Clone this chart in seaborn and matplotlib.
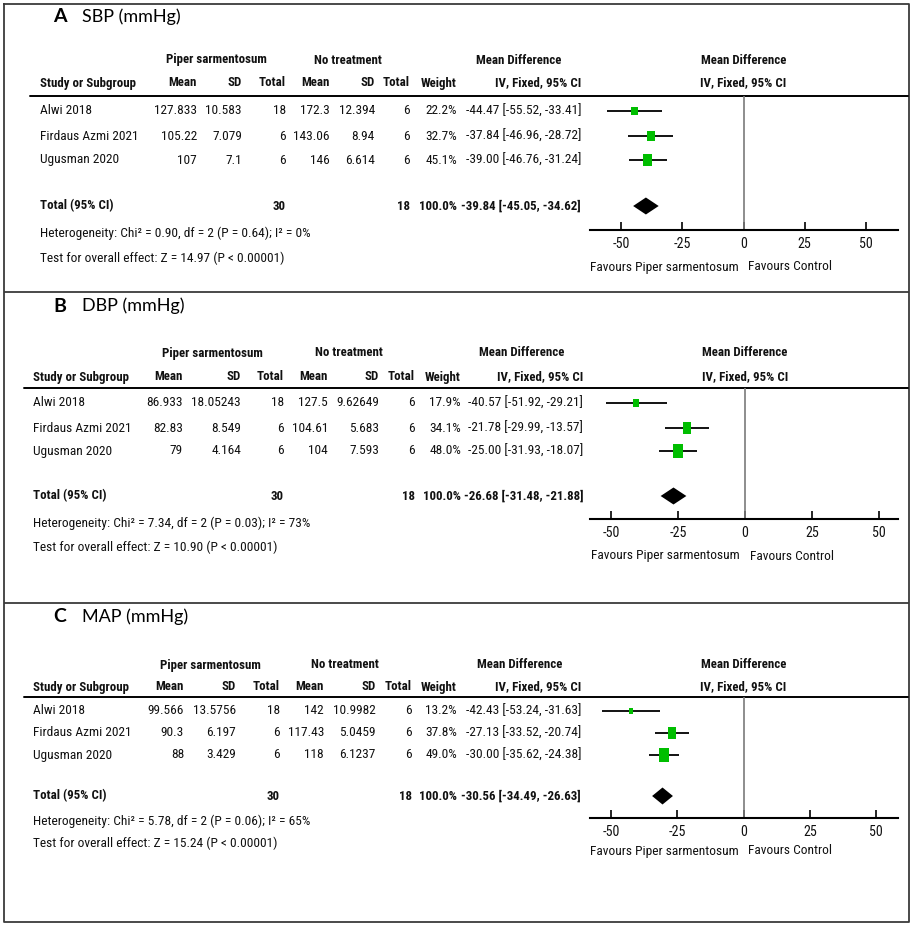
import matplotlib
matplotlib.use('Agg')
import matplotlib.pyplot as plt
from matplotlib import font_manager
import seaborn as sns
import pandas as pd

# study names and group sizes (same in all three outcomes)
studies = ['Alwi 2018', 'Firdaus Azmi 2021', 'Ugusman 2020']
ps_n = [18, 6, 6]
nt_n = [6, 6, 6]

# A - SBP
sbp_ps_mean = ['127.833', '105.22', '107']
sbp_ps_sd = ['10.583', '7.079', '7.1']
sbp_nt_mean = ['172.3', '143.06', '146']
sbp_nt_sd = ['12.394', '8.94', '6.614']
sbp_weight = [22.2, 32.7, 45.1]
sbp_md = [-44.47, -37.84, -39.00]
sbp_lo = [-55.52, -46.96, -46.76]
sbp_hi = [-33.41, -28.72, -31.24]
sbp_total = [-39.84, -45.05, -34.62]
sbp_het = [0.90, 0.64, 0]
sbp_z = 14.97

# B - DBP
dbp_ps_mean = ['86.933', '82.83', '79']
dbp_ps_sd = ['18.05243', '8.549', '4.164']
dbp_nt_mean = ['127.5', '104.61', '104']
dbp_nt_sd = ['9.62649', '5.683', '7.593']
dbp_weight = [17.9, 34.1, 48.0]
dbp_md = [-40.57, -21.78, -25.00]
dbp_lo = [-51.92, -29.99, -31.93]
dbp_hi = [-29.21, -13.57, -18.07]
dbp_total = [-26.68, -31.48, -21.88]
dbp_het = [7.34, 0.03, 73]
dbp_z = 10.90

# C - MAP
map_ps_mean = ['99.566', '90.3', '88']
map_ps_sd = ['13.5756', '6.197', '3.429']
map_nt_mean = ['142', '117.43', '118']
map_nt_sd = ['10.9982', '5.0459', '6.1237']
map_weight = [13.2, 37.8, 49.0]
map_md = [-42.43, -27.13, -30.00]
map_lo = [-53.24, -33.52, -35.62]
map_hi = [-31.63, -20.74, -24.38]
map_total = [-30.56, -34.49, -26.63]
map_het = [5.78, 0.06, 65]
map_z = 15.24

axis_ticks = [-50, -25, 0, 25, 50]

panels = [
    ('A', 'SBP (mmHg)', sbp_ps_mean, sbp_ps_sd, sbp_nt_mean, sbp_nt_sd, sbp_weight,
     sbp_md, sbp_lo, sbp_hi, sbp_total, sbp_het, sbp_z),
    ('B', 'DBP (mmHg)', dbp_ps_mean, dbp_ps_sd, dbp_nt_mean, dbp_nt_sd, dbp_weight,
     dbp_md, dbp_lo, dbp_hi, dbp_total, dbp_het, dbp_z),
    ('C', 'MAP (mmHg)', map_ps_mean, map_ps_sd, map_nt_mean, map_nt_sd, map_weight,
     map_md, map_lo, map_hi, map_total, map_het, map_z),
]

layouts = [
    dict(title=17, h1=60, h2=83, line=96, rows=[111, 136, 160], total=206, het=233, test=258,
         axis=230, fav=267, x_study=40, x_line=30, cols=[197, 242, 286, 330, 375, 410, 457, 581],
         c_ps=216, c_nt=348, c_md=519, zero=743.5, ppu=2.45),
    dict(title=306, h1=353, h2=377, line=388, rows=[403, 428, 451], total=496, het=523, test=547,
         axis=519, fav=556, x_study=33, x_line=24, cols=[183, 241, 284, 328, 379, 415, 461, 583],
         c_ps=212, c_nt=349, c_md=522, zero=745, ppu=2.68),
    dict(title=617, h1=665, h2=687, line=697, rows=[711, 733, 755], total=796, het=821, test=843,
         axis=818, fav=851, x_study=33, x_line=24, cols=[184, 236, 280, 324, 376, 412, 457, 581],
         c_ps=210, c_nt=345, c_md=520, zero=743.5, ppu=2.65),
]

sns.set_theme(style='white')
installed = {f.name for f in font_manager.fontManager.ttflist}
narrow = next((f for f in ['Liberation Sans Narrow', 'Roboto Condensed'] if f in installed),
              'Liberation Sans')
plt.rcParams['font.family'] = [narrow, 'DejaVu Sans']
plt.rcParams['axes.unicode_minus'] = False

W, H = 913, 925
fs = 9.6
ink = '#111111'
green = '#00BE00'
rect = [(-0.7, -1), (0.7, -1), (0.7, 1), (-0.7, 1), (-0.7, -1)]

fig = plt.figure(figsize=(W / 100, H / 100), dpi=100)
base = fig.add_axes([0, 0, 1, 1])
base.set_xlim(0, W)
base.set_ylim(H, 0)
base.axis('off')

# outer frame and panel separators
base.plot([4, 909, 909, 4, 4], [4, 4, 922, 922, 4], color='#3a3a3a', lw=1.3)
base.hlines([292, 603], 4, 909, color='#3a3a3a', lw=1.3)

for (letter, name, ps_mean, ps_sd, nt_mean, nt_sd, weight, md, lo, hi, total, het, z), L in zip(panels, layouts):
    c = L['cols']
    # panel title
    base.text(53, L['title'], letter, fontsize=14, fontweight='bold', family=['Lato', 'DejaVu Sans'],
              va='center', color='black')
    base.text(82, L['title'], name, fontsize=13, family=['Lato', 'DejaVu Sans'], va='center',
              color='black')

    # column headers
    hb = dict(fontsize=fs - 0.3, fontweight='bold', va='center', color=ink)
    base.text(L['c_ps'], L['h1'], 'Piper sarmentosum', ha='center', **hb)
    base.text(L['c_nt'], L['h1'], 'No treatment', ha='center', **hb)
    base.text(L['c_md'], L['h1'], 'Mean Difference', ha='center', **hb)
    base.text(L['zero'], L['h1'], 'Mean Difference', ha='center', **hb)
    base.text(L['x_study'], L['h2'], 'Study or Subgroup', ha='left', **hb)
    for x, lab in zip(c, ['Mean', 'SD', 'Total', 'Mean', 'SD', 'Total', 'Weight', 'IV, Fixed, 95% CI']):
        base.text(x, L['h2'], lab, ha='right', **hb)
    base.text(L['zero'], L['h2'], 'IV, Fixed, 95% CI', ha='center', **hb)
    base.plot([L['x_line'], 908], [L['line'], L['line']], color='black', lw=1.4)

    # study rows
    rb = dict(fontsize=fs, va='center', color=ink)
    for i, y in enumerate(L['rows']):
        base.text(L['x_study'], y, studies[i], ha='left', **rb)
        cells = [ps_mean[i], ps_sd[i], str(ps_n[i]), nt_mean[i], nt_sd[i], str(nt_n[i]),
                 f'{weight[i]:.1f}%', f'{md[i]:.2f} [{lo[i]:.2f}, {hi[i]:.2f}]']
        for x, cell in zip(c, cells):
            base.text(x, y, cell, ha='right', **rb)

    # total row
    base.text(L['x_study'], L['total'], 'Total (95% CI)', ha='left', **hb)
    base.text(c[2], L['total'], str(sum(ps_n)), ha='right', **hb)
    base.text(c[5], L['total'], str(sum(nt_n)), ha='right', **hb)
    base.text(c[6], L['total'], f'{sum(weight):.1f}%', ha='right', **hb)
    base.text(c[7], L['total'], f'{total[0]:.2f} [{total[1]:.2f}, {total[2]:.2f}]', ha='right', **hb)
    base.text(L['x_study'], L['het'],
              f'Heterogeneity: Chi² = {het[0]:.2f}, df = 2 (P = {het[1]:.2f}); I² = {het[2]}%',
              ha='left', **rb)
    base.text(L['x_study'], L['test'], f'Test for overall effect: Z = {z:.2f} (P < 0.00001)',
              ha='left', **rb)

    # forest plot axes, x in mean-difference units, y in page pixels
    x0, x1 = 590, 898
    fa = fig.add_axes([x0 / W, 1 - L['axis'] / H, (x1 - x0) / W, (L['axis'] - L['line']) / H])
    fa.set_facecolor('none')
    fa.set_xlim((x0 - L['zero']) / L['ppu'], (x1 - L['zero']) / L['ppu'])
    fa.set_ylim(L['axis'], L['line'])
    for s in ['top', 'left', 'right']:
        fa.spines[s].set_visible(False)
    fa.spines['bottom'].set_color('black')
    fa.spines['bottom'].set_linewidth(1.5)
    fa.axvline(0, color='#7a7a7a', lw=1.2, zorder=1)

    df = pd.DataFrame({'md': md, 'lo': lo, 'hi': hi, 'w': weight, 'y': L['rows']})
    fa.hlines(df['y'], df['lo'], df['hi'], color='black', lw=1.3, zorder=2)
    sns.scatterplot(data=df, x='md', y='y', size='w', sizes=(0, 187), size_norm=(0, 100),
                    marker=rect, color=green, edgecolor=green, linewidth=0, legend=False,
                    ax=fa, zorder=3)
    ty = L['total']
    fa.fill([total[1], total[0], total[2], total[0]], [ty, ty - 8.5, ty, ty + 8.5],
            color='black', lw=0, zorder=3)

    fa.set_xticks(axis_ticks)
    fa.set_xticklabels([str(t) for t in axis_ticks])
    fa.set_yticks([])
    fa.set_xlabel('')
    fa.set_ylabel('')
    fa.tick_params(axis='x', bottom=True, direction='in', length=6, width=1.2, color='black',
                   labelsize=fs + 0.5, pad=5, labelcolor=ink)

    base.text(L['zero'] - 5, L['fav'], 'Favours Piper sarmentosum', ha='right', va='center',
              fontsize=fs, color=ink)
    base.text(L['zero'] + 5, L['fav'], 'Favours Control', ha='left', va='center', fontsize=fs,
              color=ink)

fig.savefig('out.png', dpi=100)
